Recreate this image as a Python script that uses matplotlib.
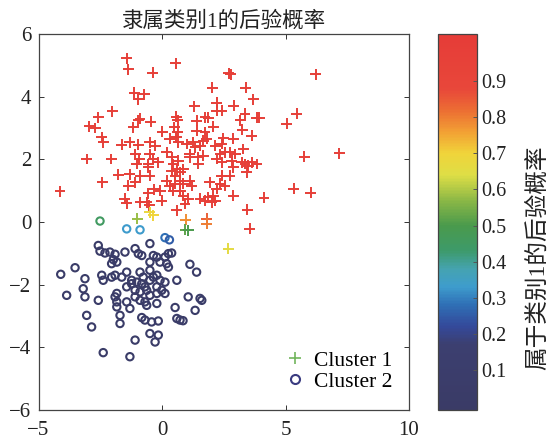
import matplotlib
matplotlib.use('Agg')
import matplotlib.pyplot as plt
import numpy as np
from matplotlib.colors import LinearSegmentedColormap, Normalize
from matplotlib.cm import ScalarMappable
from matplotlib.lines import Line2D

plt.rcParams['font.family'] = ['Liberation Serif', 'Noto Sans CJK SC']
plt.rcParams['axes.unicode_minus'] = True

# cluster 1 (crosses): x, y, posterior probability of class 1
c1_x = [-1.43, -1.36, 0.55, -0.38, -1.12, -0.72, -0.96, 1.31, 1.40, -2.01,
        -2.58, -2.94, -2.71, -0.96, -0.89, -0.45, -1.16, 0.57, 0.64, 0.50,
        0.64, 0.01, -2.44, 1.40, 2.71, 2.78, 6.22, 2.04, 3.39, 3.70,
        2.21, 2.21, 2.42, 2.91, 3.36, 3.16, 3.83, 3.94, 5.45, 5.05,
        1.74, 1.87, 2.08, 3.25, 3.63, 1.74, 1.81, 2.48, 2.89, -2.38,
        -1.63, -1.30, -0.96, -0.49, -0.28, 0.32, 0.57, 0.66, 1.00, 1.27,
        -3.05, -2.06, -1.09, -0.92, -1.02, -0.49, -0.35, -0.15, -0.55, 0.19,
        0.39, 0.46, 0.66, 0.60, 0.39, 0.73, 0.53, 0.86, 1.13, 1.34,
        1.47, -1.77, -1.30, -0.89, -0.49, -0.55, -2.42, -1.36, -1.09, 0.19,
        0.32, 0.53, 0.73, 0.86, 1.13, 1.20, 0.46, 0.73, -4.13, -0.55,
        -0.32, -0.08, -0.01, -1.50, -1.43, -0.89, -0.62, -0.51, 0.86, 1.06,
        0.93, 0.60, 1.54, 1.67, 2.15, 2.42, 2.75, 2.96, 3.29, 1.13,
        1.47, 1.67, 2.21, 2.42, 2.35, 2.55, 2.89, 2.82, 3.23, 3.36,
        3.49, 3.63, 3.83, 3.43, 5.75, 7.17, 1.94, 2.42, 2.35, 2.55,
        2.75, 2.21, 5.34, 6.02, 4.13, 2.89, 1.54, 1.74, 1.87, 2.01,
        2.15, 2.08, 3.45, 3.56,
        -0.49, -0.35, -1.00, 0.97, 0.93, 1.06, 1.81, 1.81, 2.68]
c1_y = [5.23, 4.88, 5.07, 4.77, 4.13, 4.08, 3.92, 3.69, 3.23, 3.53,
        3.34, 3.05, 3.00, 3.25, 3.29, 3.20, 3.02, 3.36, 3.25, 3.02,
        2.86, 2.88, 2.70, 2.91, 4.75, 4.72, 4.72, 4.29, 4.29, 3.92,
        3.81, 3.55, 3.55, 3.71, 3.46, 3.25, 3.32, 3.32, 3.46, 3.13,
        3.34, 3.32, 3.04, 2.94, 2.75, 2.86, 2.65, 2.68, 2.65, 2.54,
        2.47, 2.54, 2.47, 2.54, 2.44, 2.65, 2.70, 2.54, 2.49, 2.54,
        2.01, 2.01, 2.17, 2.01, 1.85, 2.17, 2.01, 1.90, 1.85, 2.22,
        2.06, 1.85, 1.96, 1.69, 1.64, 1.59, 1.48, 1.69, 2.06, 2.38,
        1.85, 1.51, 1.53, 1.48, 1.48, 1.74, 1.27, 1.16, 1.27, 1.32,
        1.16, 1.22, 1.32, 1.22, 1.32, 1.16, 1.00, 1.00, 0.98, 0.92,
        1.04, 1.00, 0.68, 0.74, 0.60, 0.63, 0.63, 0.53, 0.84, 0.74,
        0.58, 0.37, 2.44, 2.59, 2.44, 2.49, 2.22, 2.17, 2.33, 2.17,
        2.06, 2.12, 2.01, 1.90, 2.17, 2.22, 1.74, 1.96, 1.90, 1.85,
        1.80, 1.90, 1.85, 1.59, 2.09, 2.19, 1.27, 1.48, 1.22, 1.16,
        1.48, 1.06, 1.06, 0.93, 0.77, 0.84, 0.74, 0.68, 0.79, 0.63,
        0.68, 0.84, 0.39, -0.22,
        0.31, 0.21, 0.10, 0.07, -0.25, -0.27, 0.10, -0.06, -0.85]
c1_p = [0.99] * 154 + [0.68, 0.70, 0.58, 0.78, 0.52, 0.50, 0.84, 0.80, 0.66]

# cluster 2 (circles)
c2_x = [-2.51, -1.43, -0.89, 0.12, 0.30,
        -2.58, -2.51, -2.31, -2.11, -1.90, -1.97, -2.04, -1.83, -1.50, -1.09,
        -0.82, -0.96, -0.49, -0.35, -0.49, -0.21, -0.08, 0.12, 0.26, 0.39,
        0.19, 0.26, 1.13, 1.40, -4.10, -3.52, -3.12, -3.19, -3.12, -3.86,
        -2.44, -2.38, -2.04, -1.90, -1.63, -1.43, -1.23, -0.89, -0.76, -1.43,
        -1.23, -1.02, -0.82, -0.69, -0.49, -0.35, -0.21, -0.08, 0.12, 0.60,
        -1.09, -0.89, -0.62, -0.49, -0.21, -0.01, 0.12, -2.58, -1.90, -1.83,
        -1.83, -1.43, -1.30, -1.09, -0.89, -0.69, -0.62, -0.21, 1.06, 1.54,
        1.61, 1.34, 0.53, -3.05, -2.85, -1.70, -1.70, -0.82, -0.69, -0.42,
        -0.15, -0.49, -0.15, -0.28, -1.09, 0.60, 0.73, 0.85, -2.38, -1.30,
        -1.83, -0.49, -0.21]
c2_y = [0.03, -0.22, -0.25, -0.50, -0.57,
        -0.75, -0.93, -0.99, -0.96, -1.03, -1.20, -1.33, -1.28, -0.96, -0.85,
        -1.07, -1.01, -0.69, -1.07, -1.28, -1.12, -1.28, -1.12, -1.01, -0.99,
        -1.33, -1.44, -1.35, -1.60, -1.67, -1.46, -1.81, -2.13, -2.39, -2.34,
        -1.70, -1.86, -1.76, -1.70, -1.76, -1.60, -1.86, -1.60, -1.76, -2.07,
        -1.97, -1.92, -1.97, -2.07, -1.86, -1.76, -1.70, -1.86, -1.92, -1.86,
        -2.18, -2.23, -2.18, -2.34, -2.28, -2.18, -2.28, -2.50, -2.39, -2.55,
        -2.71, -2.55, -2.76, -2.39, -2.50, -2.55, -2.66, -2.60, -2.39, -2.44,
        -2.50, -2.82, -2.73, -2.98, -3.35, -2.98, -3.24, -3.05, -3.13, -3.19,
        -3.16, -3.56, -3.61, -3.83, -3.77, -3.08, -3.13, -3.15, -4.17, -4.30,
        -2.28, -1.54, -2.07]
c2_p = [0.45, 0.33, 0.33, 0.28, 0.25] + [0.02] * 98

# colour map as printed (muted jet)
vmin, vmax = -0.01, 1.03
cm_nodes = [vmin, 0.17, 0.22, 0.28, 0.33, 0.38, 0.43, 0.50, 0.57, 0.64,
            0.70, 0.76, 0.82, 0.88, vmax]
cm_cols = ['#3a3b66', '#3c3f70', '#34499a', '#2f6fb5', '#3e9ccd', '#45a3b0',
           '#3d9a6a', '#4a9a4c', '#8cb846', '#dede46', '#f0d43a', '#f2a034',
           '#ec6d33', '#e8473a', '#e63c38']
cmap = LinearSegmentedColormap.from_list(
    'printjet', [((v - vmin) / (vmax - vmin), c) for v, c in zip(cm_nodes, cm_cols)])
norm = Normalize(vmin=vmin, vmax=vmax)

fig = plt.figure(figsize=(5.54, 4.45), dpi=100)
ax = fig.add_axes([0.0695, 0.0787, 0.6688, 0.8449])

ax.scatter(c1_x, c1_y, c=c1_p, cmap=cmap, norm=norm, marker='+', s=62, linewidths=1.4)
ax.scatter(c2_x, c2_y, facecolors='none', edgecolors=cmap(norm(np.array(c2_p))),
           marker='o', s=28, linewidths=1.5)

ax.set_xlim(-5, 10)
ax.set_ylim(-6, 6)
ax.set_xticks([-5, 0, 5, 10])
ax.set_yticks([-6, -4, -2, 0, 2, 4, 6])
ax.tick_params(direction='in', top=True, right=True, length=3.5, width=0.7,
               labelsize=15, colors='#333333', labelcolor='#222222')
ax.tick_params(axis='x', pad=8)
ax.tick_params(axis='y', pad=5)
for sp in ax.spines.values():
    sp.set_color('#444444')
    sp.set_linewidth(0.9)
ax.set_title('隶属类别1的后验概率', fontsize=15.5, pad=5, color='#222222')

handles = [Line2D([], [], marker='+', ls='none', color='#72b55c', markersize=8.5, mew=1.2),
           Line2D([], [], marker='o', ls='none', mfc='none', mec='#3a3b80', markersize=6.5, mew=1.5)]
ax.legend(handles, ['Cluster 1', 'Cluster 2'], loc='lower right', frameon=False,
          fontsize=15.5, handlelength=0.8, handletextpad=0.5, labelspacing=0.05,
          borderaxespad=0.1, bbox_to_anchor=(0.985, 0.02))

cax = fig.add_axes([0.7906, 0.0787, 0.0704, 0.8449])
cb = fig.colorbar(ScalarMappable(norm=norm, cmap=cmap), cax=cax)
cb.set_ticks([0.1, 0.2, 0.3, 0.4, 0.5, 0.6, 0.7, 0.8, 0.9])
cb.ax.tick_params(direction='in', length=3, width=0.7, labelsize=14.5, pad=3,
                  colors='#555555', labelcolor='#222222')
cb.outline.set_edgecolor('#444444')
cb.outline.set_linewidth(0.9)
fig.text(0.971, 0.42, '属于类别1的后验概率', rotation=90, ha='center', va='center',
         fontsize=17, color='#222222')

fig.savefig('out.png', dpi=100)
